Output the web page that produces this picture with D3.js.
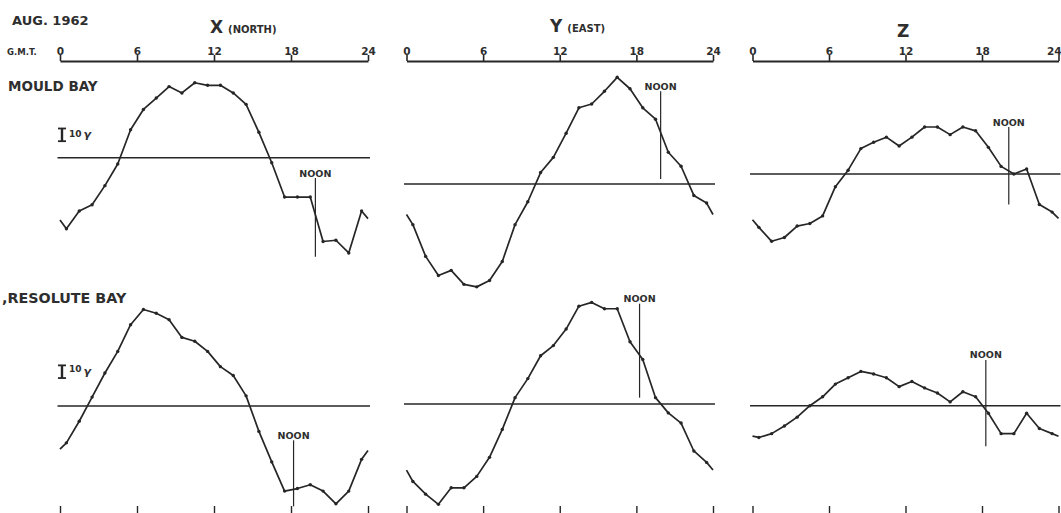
<!DOCTYPE html>
<html>
<head>
<meta charset="utf-8">
<script src="https://cdn.jsdelivr.net/npm/d3@7/dist/d3.min.js"></script>
<style>
  html, body { margin: 0; padding: 0; background: #fff; }
  svg { display: block; }
  text { font-family: "DejaVu Sans", sans-serif; font-weight: bold; fill: #2e2e2e; }
</style>
</head>
<body>
<svg id="chart" width="1061" height="513"></svg>
<script>
// ---------- DATA (gamma, relative to the daily mean line) ----------
const hours = [0, 0.5, 1.5, 2.5, 3.5, 4.5, 5.5, 6.5, 7.5, 8.5, 9.5, 10.5, 11.5,
               12.5, 13.5, 14.5, 15.5, 16.5, 17.5, 18.5, 19.5, 20.5, 21.5, 22.5, 23.5, 24];
const tickHours = [0, 6, 12, 18, 24];
const tickLabels = ["0", "6", "12", "18", "24"];
const components = ["X", "Y", "Z"];
const componentNotes = ["(NORTH)", "(EAST)", ""];
const stations = ["MOULD BAY", ",RESOLUTE BAY"];

const mouldX = [-49, -56, -42, -37, -22, -5, 22, 38, 47, 56, 51, 59, 57, 57, 51, 42, 20, -4, -31, -31, -31, -66, -65, -75, -42, -48];
const mouldY = [-24, -32, -57, -72, -68, -79, -81, -76, -61, -32, -14, 9, 21, 40, 60, 63, 73, 84, 75, 60, 51, 25, 14, -9, -15, -24];
const mouldZ = [-36, -42, -53, -50, -41, -39, -33, -10, 3, 20, 25, 29, 22, 29, 37, 37, 31, 37, 34, 21, 6, 0, 4, -24, -30, -35];
const resX = [-34, -29, -12, 7, 26, 43, 64, 76, 73, 68, 54, 51, 43, 31, 24, 8, -20, -44, -67, -65, -62, -67, -77, -67, -42, -35];
const resY = [-52, -61, -71, -79, -66, -66, -57, -42, -20, 5, 20, 38, 46, 59, 77, 80, 75, 75, 49, 35, 5, -7, -15, -37, -46, -52];
const resZ = [-24, -25, -22, -16, -9, 0, 7, 17, 22, 27, 25, 22, 15, 19, 14, 10, 3, 11, 7, -6, -22, -22, -6, -18, -22, -24];

const seriesRows = [[mouldX, mouldY, mouldZ], [resX, resY, resZ]];
// local noon (G.M.T. hours) and the extent of the NOON marker (gamma)
const noonHour = [[19.9, 19.9, 20.1], [18.2, 18.25, 18.3]];
const noonTop = [[-16, 73, 37], [-27, 79, 36]];
const noonBottom = [[-78, 4, -24], [-79, 5, -32]];
const scaleBarValue = 10;           // "10 γ" scale bar
const scaleBarTop = [23, 32];        // gamma at top of scale bar, per station row

// ---------- LAYOUT ----------
const svg = d3.select("#chart");
const colRange = [[60, 368], [406.5, 713], [752.5, 1058.5]];
const zeroY = [[157.7, 184, 174], [406, 404, 405.7]];
const pxPerTen = 12.7;
const ink = "#262626";

const xScales = colRange.map(r => d3.scaleLinear().domain([0, 24]).range(r));

// header texts
svg.append("text").attr("x", 12).attr("y", 25).style("font-size", "13px").text("AUG. 1962");
svg.append("text").attr("x", 7).attr("y", 55).style("font-size", "8.5px").text("G.M.T.");

const titleX = [210, 550, 897];
const titleY = [33, 32, 37];
components.forEach((c, i) => {
  const t = svg.append("text").attr("x", titleX[i]).attr("y", titleY[i]);
  t.append("tspan").style("font-size", "17px").text(c);
  if (componentNotes[i]) {
    t.append("tspan").attr("dx", 5).style("font-size", "10px").text(componentNotes[i]);
  }
});

// top G.M.T. axes
xScales.forEach((x, ci) => {
  const g = svg.append("g").attr("transform", "translate(0,61)")
    .call(d3.axisTop(x).tickValues(tickHours).tickFormat((d, i) => tickLabels[i])
      .tickSize(6).tickPadding(0).tickSizeOuter(0));
  g.select(".domain").attr("stroke", ink).attr("stroke-width", 2);
  g.selectAll(".tick line").attr("stroke", ink).attr("stroke-width", 1.6);
  g.selectAll(".tick text").attr("fill", "#2e2e2e")
    .style("font-family", "'DejaVu Sans', sans-serif").style("font-weight", "bold")
    .style("font-size", "10.5px");
  if (ci === xScales.length - 1) {
    // keep the last label inside the picture, as far right as it fits
    g.selectAll(".tick text").filter(d => d === 24)
      .attr("text-anchor", "end").attr("x", 1061 - x(24));
  }
});

// bottom tick marks
xScales.forEach(x => {
  const g = svg.append("g").attr("transform", "translate(0,506)")
    .call(d3.axisBottom(x).tickValues(tickHours).tickSize(8).tickFormat(""));
  g.select(".domain").remove();
  g.selectAll(".tick line").attr("stroke", ink).attr("stroke-width", 1.4);
});

// station labels
svg.append("text").attr("x", 8).attr("y", 91).style("font-size", "13.5px").text(stations[0]);
svg.append("text").attr("x", 2).attr("y", 303).style("font-size", "14.3px").text(stations[1]);

// panels
seriesRows.forEach((row, r) => {
  row.forEach((vals, c) => {
    const x = xScales[c];
    const z = zeroY[r][c];
    const y = d3.scaleLinear().domain([0, 10]).range([z, z - pxPerTen]);
    const g = svg.append("g");

    // mean (zero) line
    g.append("line")
      .attr("x1", x(0) - 2.5).attr("x2", x(24) + 2)
      .attr("y1", y(0)).attr("y2", y(0))
      .attr("stroke", ink).attr("stroke-width", 1.6);

    // noon marker
    const nx = x(noonHour[r][c]);
    g.append("line")
      .attr("x1", nx).attr("x2", nx)
      .attr("y1", y(noonTop[r][c])).attr("y2", y(noonBottom[r][c]))
      .attr("stroke", ink).attr("stroke-width", 1.2);
    g.append("text").attr("x", nx).attr("y", y(noonTop[r][c]) - 1.5)
      .attr("text-anchor", "middle").style("font-size", "9.5px").text("NOON");

    // curve
    const data = hours.map((h, i) => ({ h, v: vals[i] }));
    g.append("path").datum(data)
      .attr("fill", "none").attr("stroke", ink).attr("stroke-width", 1.7)
      .attr("stroke-linejoin", "round")
      .attr("d", d3.line().x(d => x(d.h)).y(d => y(d.v)));
    g.selectAll("circle").data(data.slice(1, -1)).join("circle")
      .attr("cx", d => x(d.h)).attr("cy", d => y(d.v)).attr("r", 1.7)
      .attr("fill", ink);

    // scale bar on X panels
    if (c === 0) {
      const top = y(scaleBarTop[r]);
      const bot = y(scaleBarTop[r] - scaleBarValue);
      const bx = 62;
      g.append("line").attr("x1", bx).attr("x2", bx).attr("y1", top).attr("y2", bot)
        .attr("stroke", ink).attr("stroke-width", 2.4);
      [top, bot].forEach(yy => g.append("line")
        .attr("x1", bx - 4).attr("x2", bx + 4).attr("y1", yy).attr("y2", yy)
        .attr("stroke", ink).attr("stroke-width", 1.8));
      const t = g.append("text").attr("x", 69).attr("y", r === 0 ? top + 9 : top + 7);
      t.append("tspan").style("font-size", "9px").text("10");
      t.append("tspan").attr("dx", 2).attr("dy", r === 0 ? 1 : 2.5)
        .style("font-size", "11px").style("font-style", "italic").text("γ");
    }
  });
});
</script>
</body>
</html>
